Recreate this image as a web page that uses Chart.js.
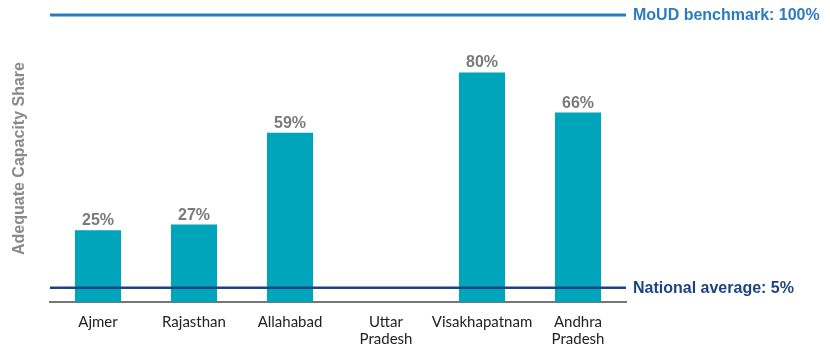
<!DOCTYPE html>
<html>
<head>
<meta charset="utf-8">
<style>
  html, body { margin: 0; padding: 0; background: #ffffff; }
  #wrap { width: 830px; height: 349px; position: relative; }
</style>
<script src="https://cdn.jsdelivr.net/npm/chart.js@4/dist/chart.umd.min.js"></script>
</head>
<body>
<div id="wrap"><canvas id="chart" width="830" height="349"></canvas></div>
<script>
// Categories (multi-line names are arrays)
const categories = [
  'Ajmer',
  'Rajasthan',
  'Allahabad',
  ['Uttar', 'Pradesh'],
  'Visakhapatnam',
  ['Andhra', 'Pradesh']
];
// Adequate capacity share, percent (no value reported for Uttar Pradesh)
const shareValues = [25, 27, 59, null, 80, 66];

// Reference levels
const benchmarkValue = 100;
const benchmarkLabel = 'MoUD benchmark: 100%';
const nationalValue = 5;
const nationalLabel = 'National average: 5%';

const axisTitle = 'Adequate Capacity Share';

const boldFont = 'bold 16px "Liberation Sans", Arial, sans-serif';

const refLinesPlugin = {
  id: 'refLines',
  afterDatasetsDraw(chart) {
    const ctx = chart.ctx;
    const area = chart.chartArea;
    const y = chart.scales.y;
    const x0 = area.left;
    const x1 = area.right;

    // value labels above bars
    const meta = chart.getDatasetMeta(0);
    ctx.save();
    ctx.font = boldFont;
    ctx.fillStyle = '#7a7a7a';
    ctx.textAlign = 'center';
    ctx.textBaseline = 'alphabetic';
    meta.data.forEach((bar, i) => {
      const v = shareValues[i];
      if (v === null || v === undefined) return;
      ctx.fillText(v + '%', bar.x, bar.y - 5);
    });
    ctx.restore();

    // horizontal reference lines with labels on the right
    const drawRef = (value, color, width, label) => {
      const py = y.getPixelForValue(value);
      ctx.save();
      ctx.strokeStyle = color;
      ctx.lineWidth = width;
      ctx.beginPath();
      ctx.moveTo(x0, py);
      ctx.lineTo(x1, py);
      ctx.stroke();
      ctx.font = boldFont;
      ctx.fillStyle = color;
      ctx.textAlign = 'left';
      ctx.textBaseline = 'middle';
      ctx.fillText(label, x1 + 7, py + 1);
      ctx.restore();
    };
    drawRef(nationalValue, '#1d4480', 2.5, nationalLabel);
    drawRef(benchmarkValue, '#2b7bc2', 3, benchmarkLabel);
  }
};

new Chart(document.getElementById('chart'), {
  type: 'bar',
  data: {
    labels: categories,
    datasets: [{
      data: shareValues,
      backgroundColor: '#00a5bb',
      borderWidth: 0,
      barPercentage: 0.48,
      categoryPercentage: 1.0
    }]
  },
  options: {
    responsive: false,
    animation: false,
    devicePixelRatio: 1,
    layout: { padding: { left: 4, right: 204, top: 15, bottom: -10 } },
    plugins: {
      legend: { display: false },
      tooltip: { enabled: false }
    },
    scales: {
      x: {
        grid: { display: false, drawTicks: false },
        border: { display: true, color: '#777777', width: 2 },
        ticks: {
          color: '#222222',
          font: { family: 'Lato, "Open Sans", sans-serif', size: 15, lineHeight: 1.1 },
          padding: 12,
          maxRotation: 0,
          autoSkip: false
        }
      },
      y: {
        min: 0,
        max: 100,
        grid: { display: false, drawTicks: false },
        border: { display: false },
        ticks: { display: false },
        title: {
          display: true,
          text: axisTitle,
          color: '#8a8a8a',
          font: { family: '"Liberation Sans", Arial, sans-serif', size: 16, weight: 'bold' },
          padding: { top: 5.5, bottom: 21.3 }
        }
      }
    }
  },
  plugins: [refLinesPlugin]
});
</script>
</body>
</html>
